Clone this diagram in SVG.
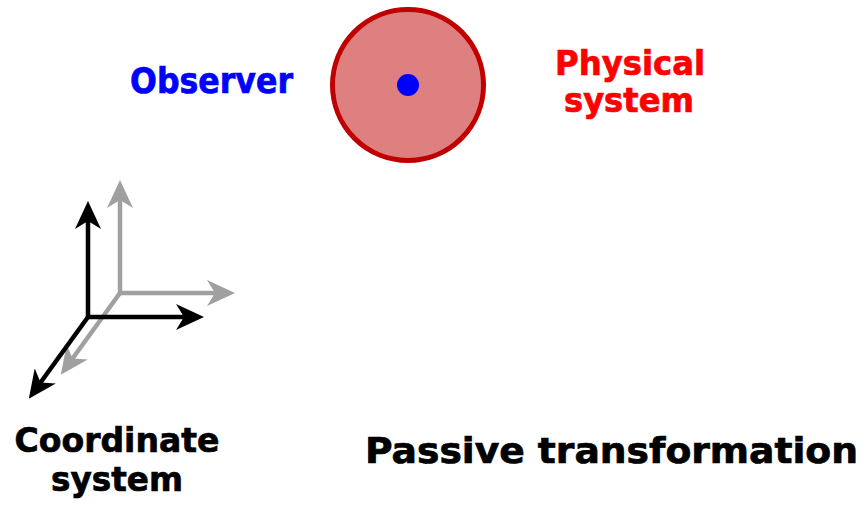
<svg xmlns="http://www.w3.org/2000/svg" width="868" height="507" viewBox="0 0 868 507">
<style>
text{font-family:"DejaVu Sans","Verdana",sans-serif;font-weight:bold;stroke-width:0.7;}
.blk{stroke:#000;stroke-width:4.5;fill:none;}
.gry{stroke:#a0a0a0;stroke-width:4.5;fill:none;}
</style>
<defs>
<marker id="ab" markerUnits="userSpaceOnUse" viewBox="0 0 28 26" markerWidth="28" markerHeight="26" refX="12" refY="13" orient="auto-start-reverse"><path d="M0,0 L28,13 L0,26 L8,13 z" fill="#000"/></marker>
<marker id="ag" markerUnits="userSpaceOnUse" viewBox="0 0 28 26" markerWidth="28" markerHeight="26" refX="12" refY="13" orient="auto-start-reverse"><path d="M0,0 L28,13 L0,26 L8,13 z" fill="#a0a0a0"/></marker>
</defs>
<g id="physical-system">
<circle cx="408" cy="85" r="75.5" fill="#de8080" stroke="#c00000" stroke-width="5"/>
<circle cx="408" cy="85" r="11" fill="#0000ff"/>
</g>
<g id="observer-label"><text x="130" y="93" font-size="35" fill="#0000ff" stroke="#0000ff" textLength="163" lengthAdjust="spacingAndGlyphs">Observer</text></g>
<g id="physical-label">
<text x="630" y="75" text-anchor="middle" fill="#ff0000" stroke="#ff0000" font-size="33" textLength="150" lengthAdjust="spacingAndGlyphs">Physical</text>
<text x="629" y="112" text-anchor="middle" fill="#ff0000" stroke="#ff0000" font-size="33" textLength="130" lengthAdjust="spacingAndGlyphs">system</text>
</g>
<g id="connectors">
<path class="gry" d="M120,196 L120,293 L219,293" marker-start="url(#ag)" marker-end="url(#ag)"/>
<path class="gry" d="M120,293 L70.2,361.7" marker-end="url(#ag)"/>
<path class="blk" d="M88,217 L88,317 L188,317" marker-start="url(#ab)" marker-end="url(#ab)"/>
<path class="blk" d="M88,317 L38.2,385.7" marker-end="url(#ab)"/>
</g>
<g id="coordinate-label">
<text x="117" y="452" text-anchor="middle" font-size="34" fill="#000" stroke="#000" textLength="205" lengthAdjust="spacingAndGlyphs">Coordinate</text>
<text x="117" y="491" text-anchor="middle" font-size="34" fill="#000" stroke="#000" textLength="132" lengthAdjust="spacingAndGlyphs">system</text>
</g>
<g id="title"><text x="365" y="463" font-size="36" fill="#000" stroke="#000" textLength="493" lengthAdjust="spacingAndGlyphs">Passive transformation</text></g>
</svg>
